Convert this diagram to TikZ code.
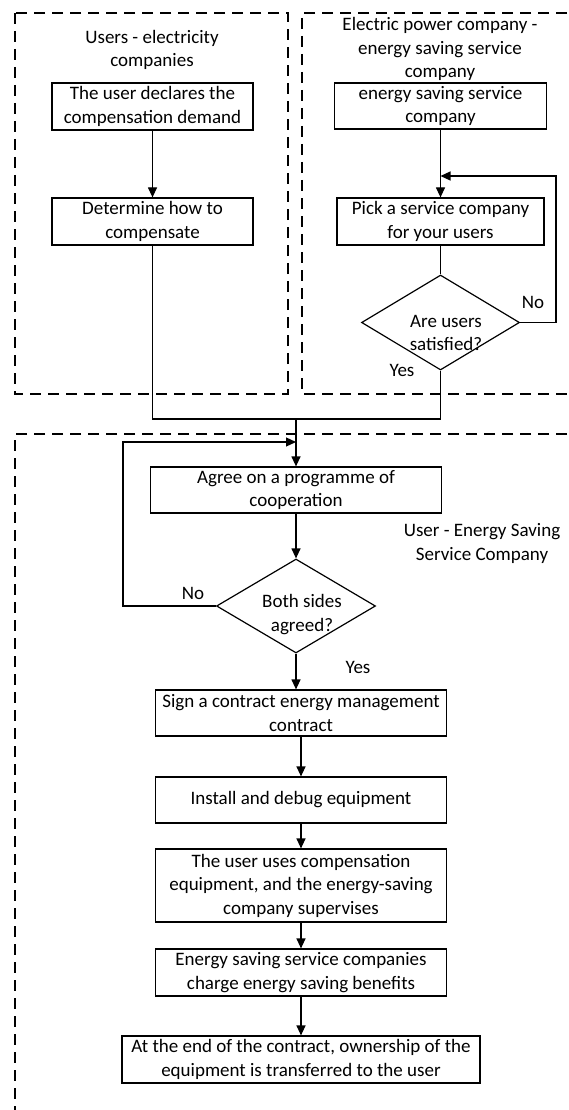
\documentclass[tikz,border=0pt]{standalone}
\usepackage{fontspec}
\setmainfont{Carlito}
\usetikzlibrary{arrows.meta,shapes.geometric}
\begin{document}
\begin{tikzpicture}[x=1pt,y=-1pt,
  every node/.style={font=\fontsize{19}{23.5}\selectfont, align=center, inner sep=0pt},
  proc/.style={draw, line width=1.2pt, rectangle},
  dec/.style={draw, line width=1.2pt, diamond},
  lane/.style={draw, line width=1.2pt, dash pattern=on 11pt off 7pt},
  conn/.style={draw, line width=1.2pt},
  arr/.style={draw, line width=1.2pt, -{Triangle[length=10pt,width=9pt]}}]
\path[use as bounding box] (0,0) rectangle (568,1110);
% lanes
\draw[lane] (15,13) rectangle (288,394);
\draw[lane] (585,13) -- (302,13) -- (302,394) -- (585,394);
\draw[lane] (585,434) -- (15,434) -- (15,1125);
% left lane
\node (t1) at (152,50) {Users - electricity\\companies};
\node[proc, minimum width=201pt, minimum height=47pt] (b1) at (152.5,106.5) {The user declares the\\compensation demand};
\node[proc, minimum width=201pt, minimum height=47pt] (b2) at (152.5,221.5) {Determine how to\\compensate};
% right lane
\node (t2) at (440,49) {Electric power company -\\energy saving service\\company};
\node[proc, minimum width=212pt, minimum height=46pt] (b3) at (440.5,106) {energy saving service\\company};
\node[proc, minimum width=207pt, minimum height=47pt] (b4) at (440.5,221.5) {Pick a service company\\for your users};
\node[dec, minimum width=158pt, minimum height=95pt] (d1) at (440.5,322.5) {};
\node (d1t) at (446,333) {Are users\\satisfied?};
\node (no1) at (533,302) {No};
\node (yes1) at (402,370) {Yes};
% bottom lane
\node[proc, minimum width=291pt, minimum height=46pt] (agree) at (296,490) {Agree on a programme of\\cooperation};
\node (t3) at (482,543.5) {User - Energy Saving\\Service Company};
\node[dec, minimum width=159pt, minimum height=94pt] (d2) at (296,606) {};
\node (d2t) at (302,614.5) {Both sides\\agreed?};
\node (no2) at (193,593) {No};
\node (yes2) at (358,667) {Yes};
\node[proc, minimum width=291pt, minimum height=46pt] (s1) at (301,713) {Sign a contract energy management\\contract};
\node[proc, minimum width=291pt, minimum height=46pt] (s2) at (301,800) {Install and debug equipment};
\node[proc, minimum width=291pt, minimum height=73pt] (s3) at (301,885.5) {The user uses compensation\\equipment, and the energy-saving\\company supervises};
\node[proc, minimum width=291pt, minimum height=47pt] (s4) at (301,972.5) {Energy saving service companies\\charge energy saving benefits};
\node[proc, minimum width=358pt, minimum height=47pt] (s5) at (301,1059.5) {At the end of the contract, ownership of the\\equipment is transferred to the user};
% coordinates
\coordinate (m0) at (296,419);
\coordinate (c1) at (556,176);
\coordinate (r1) at (440.5,176);
\coordinate (c2) at (123,442);
\coordinate (c3) at (296,442);
% connectors
\draw[arr] (b1) -- (b2);
\draw[arr] (b3) -- (b4);
\draw[conn] (b4) -- (d1);
\draw[arr] (d1.east) -| (c1) -- (r1);
\draw[conn] (b2.south) |- (d1.south |- m0) -- (d1.south);
\draw[arr] (m0) -- (agree.north);
\draw[arr] (agree) -- (d2);
\draw[arr] (d2.west) -| (c2) -- (c3);
\draw[arr] (d2.south) -- (d2.south |- s1.north);
\draw[arr] (s1) -- (s2);
\draw[arr] (s2) -- (s3);
\draw[arr] (s3) -- (s4);
\draw[arr] (s4) -- (s5);
\end{tikzpicture}
\end{document}
